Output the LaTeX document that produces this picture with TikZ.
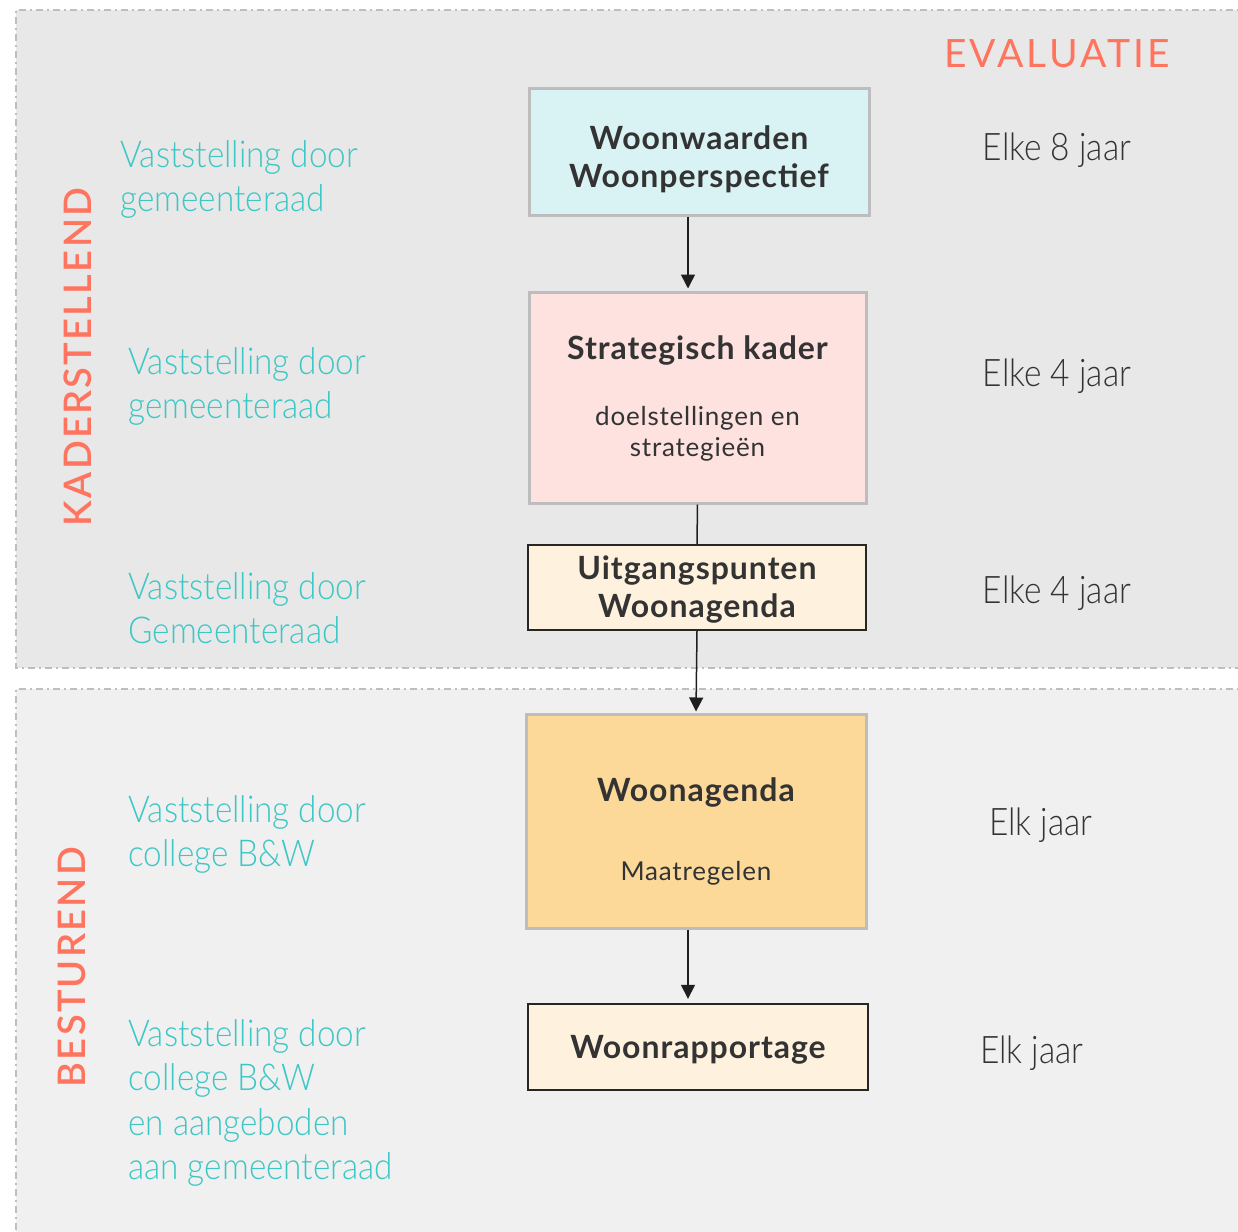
\documentclass[tikz,border=0pt]{standalone}
\usepackage{fontspec}
\setmainfont{Lato}
\newfontfamily\lightf[FakeStretch=0.9]{Lato Light}
\newfontfamily\freqf[FakeStretch=0.88]{Lato Light}
\newfontfamily\capsf[LetterSpace=8]{Lato}
\newfontfamily\sidef[LetterSpace=6]{Lato Semibold}
\newfontfamily\titlef[LetterSpace=3]{Lato Bold}
\newfontfamily\subf[LetterSpace=3]{Lato}
\usetikzlibrary{arrows.meta}
\definecolor{topbg}{HTML}{E8E8E8}
\definecolor{botbg}{HTML}{F0F0F0}
\definecolor{dashgray}{HTML}{BEBEBE}
\definecolor{boxgray}{HTML}{BDBDBD}
\definecolor{cyanfill}{HTML}{D9F2F3}
\definecolor{pinkfill}{HTML}{FDE2E0}
\definecolor{creamfill}{HTML}{FEF1DE}
\definecolor{orangefill}{HTML}{FCD899}
\definecolor{darktext}{HTML}{333333}
\definecolor{tealtext}{HTML}{3CC7C5}
\definecolor{coral}{HTML}{FF745F}
\tikzset{
  region/.style={draw=dashgray, line width=1pt, dash pattern=on 3.5pt off 2pt on 1pt off 2pt},
  graybox/.style={draw=boxgray, line width=1.5pt, inner sep=0pt},
  blackbox/.style={draw=black!85, line width=1.2pt, inner sep=0pt},
  titletext/.style={inner sep=0pt, anchor=base, text=darktext, font=\fontsize{16}{19}\selectfont\titlef},
  subtext/.style={inner sep=0pt, anchor=base, text=darktext, font=\fontsize{13}{15.5}\selectfont\subf},
  tealnote/.style={inner sep=0pt, anchor=base west, text=tealtext, font=\fontsize{18.5}{22.25}\selectfont\lightf},
  freqtext/.style={inner sep=0pt, anchor=base, text=darktext, font=\fontsize{19}{22}\selectfont\freqf},
  sidelabel/.style={inner sep=0pt, anchor=center, text=coral, rotate=90, font=\fontsize{19}{22}\selectfont\sidef},
  arr/.style={draw=black!88, line width=0.75pt, -{Triangle[length=7pt,width=7pt]}},
  plainline/.style={draw=black!88, line width=0.75pt}
}
\begin{document}
\begin{tikzpicture}[x=0.5pt,y=-0.5pt]
\useasboundingbox (0,0) rectangle (1238,1232);
\fill[white] (0,0) rectangle (1238,1232);
% regions
\fill[topbg] (16,10) rectangle (1250,668);
\draw[region] (1250,10) -- (16,10) -- (16,668) -- (1250,668);
\fill[botbg] (16,689) rectangle (1250,1250);
\draw[region] (1250,689) -- (16,689) -- (16,1250);

% side labels
\node[sidelabel] (kader) at (78,357) {KADERSTELLEND};
\node[sidelabel] (bestur) at (72,967) {BESTUREND};
\node[inner sep=0pt, anchor=base, text=coral, font=\fontsize{19.5}{22}\selectfont\capsf] (evaluatie) at (1057,67) {EVALUATIE};

% boxes
\node[graybox, fill=cyanfill, minimum width=170pt, minimum height=63.5pt] (b1) at (699,151.5) {};
\node[graybox, fill=pinkfill, minimum width=168.5pt, minimum height=105.5pt] (b2) at (697.5,397.5) {};
\node[blackbox, fill=creamfill, minimum width=169pt, minimum height=42.5pt] (b3) at (697,587.5) {};
\node[graybox, fill=orangefill, minimum width=170pt, minimum height=107pt] (b4) at (696,821) {};
\node[blackbox, fill=creamfill, minimum width=170pt, minimum height=43pt] (b5) at (698,1047) {};

% box texts
\node[titletext] (t1) at (699,149) {\begin{tabular}[t]{@{}c@{}}Woonwaarden\\Woonperspectief\end{tabular}};
\node[titletext] (t2) at (697.5,359) {Strategisch kader};
\node[subtext] (s2) at (697.5,425) {\begin{tabular}[t]{@{}c@{}}doelstellingen en\\strategieën\end{tabular}};
\node[titletext] (t3) at (697,579) {\begin{tabular}[t]{@{}c@{}}Uitgangspunten\\Woonagenda\end{tabular}};
\node[titletext] (t4) at (696,801) {Woonagenda};
\node[subtext] (s4) at (696,880) {Maatregelen};
\node[titletext] (t5) at (698,1058) {Woonrapportage};

% connectors
\draw[arr] ([xshift=-5.5pt]b1.south) -- ([xshift=-4.75pt,yshift=1pt]b2.north);
\draw[plainline] (b2.south) -- (b3.north);
\draw[arr] (b3.south) -- ([yshift=0.5pt]b4.north);
\draw[arr] ([xshift=-4pt]b4.south) -- ([xshift=-5pt,yshift=2pt]b5.north);

% teal notes
\node[tealnote] (n1) at (120,167) {\begin{tabular}[t]{@{}l@{}}Vaststelling door\\gemeenteraad\end{tabular}};
\node[tealnote] (n2) at (128,374) {\begin{tabular}[t]{@{}l@{}}Vaststelling door\\gemeenteraad\end{tabular}};
\node[tealnote] (n3) at (128,599) {\begin{tabular}[t]{@{}l@{}}Vaststelling door\\Gemeenteraad\end{tabular}};
\node[tealnote] (n4) at (128,822) {\begin{tabular}[t]{@{}l@{}}Vaststelling door\\college B\&W\end{tabular}};
\node[tealnote] (n5) at (128,1046) {\begin{tabular}[t]{@{}l@{}}Vaststelling door\\college B\&W\\en aangeboden\\aan gemeenteraad\end{tabular}};

% frequencies
\node[freqtext] (f1) at (1057,160) {Elke 8 jaar};
\node[freqtext] (f2) at (1057,386) {Elke 4 jaar};
\node[freqtext] (f3) at (1057,603) {Elke 4 jaar};
\node[freqtext] (f4) at (1041,835) {Elk jaar};
\node[freqtext] (f5) at (1032,1063) {Elk jaar};
\end{tikzpicture}
\end{document}
